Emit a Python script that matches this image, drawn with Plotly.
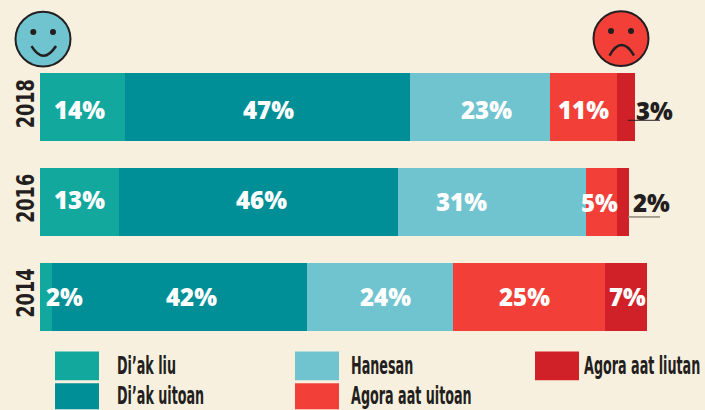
import plotly.graph_objects as go

years = ["2018", "2016", "2014"]
series_names = ["Di’ak liu", "Di’ak uitoan", "Hanesan", "Agora aat uitoan", "Agora aat liutan"]
diak_liu = [14, 13, 2]
diak_uitoan = [47, 46, 42]
hanesan = [23, 31, 24]
agora_uitoan = [11, 5, 25]
agora_liutan = [3, 2, 7]
series_values = [diak_liu, diak_uitoan, hanesan, agora_uitoan, agora_liutan]
colors = ["#12a89d", "#008f96", "#70c4cf", "#f23f38", "#d02128"]

# label nudges in pixels, per year then per series
label_dx = [[-3, 1, 6, 0, 29], [0, 3, -31, -2, 29], [18, 12, 6, -4, 2]]
label_dy = [[2, 2, 2, 2, 3], [-3, -3, -1, 0, 0], [0, 0, 0, 0, 0]]
label_colors = ["white", "white", "white", "white", "#231f20"]

W, H = 705, 410
ML, MR, MT, MB = 40, 0, 59.5, 65.5
PX_PER_PCT = 6.07
BG = "#f8f0df"
INK = "#231f20"
LABEL_FONT = "Open Sans"
NARROW = "DejaVu Sans Condensed"


def px(x):
    return (x - ML) / (W - ML - MR)


def py(y):
    return 1 - (y - MT) / (H - MT - MB)


fig = go.Figure()
for name, vals, col in zip(series_names, series_values, colors):
    fig.add_trace(go.Bar(y=years, x=vals, name=name, orientation="h",
                         marker=dict(color=col, line=dict(width=0)),
                         showlegend=False, hoverinfo="x+name"))

annotations = []
shapes = []
for yi, year in enumerate(years):
    cum = 0
    for si, vals in enumerate(series_values):
        v = vals[yi]
        lc = label_colors[si]
        if si == 4 and yi == 2:
            lc = "white"
        annotations.append(dict(x=cum + v / 2, y=len(years) - 1 - yi, xref="x", yref="y",
                                text=f"{v}%", showarrow=False,
                                xshift=label_dx[yi][si], yshift=-label_dy[yi][si],
                                font=dict(family=LABEL_FONT, size=24, color=lc, weight=800)))
        cum += v

# legend
legend_pos = [(55, 352, 381), (55, 384, 410), (295, 352, 381), (295, 384, 410), (535, 352, 381)]
legend_text_x = [115, 115, 349, 349, 582]
for name, col, (x0, y0, y1), tx in zip(series_names, colors, legend_pos, legend_text_x):
    shapes.append(dict(type="rect", xref="paper", yref="paper", x0=px(x0), x1=px(x0 + 44),
                       y0=py(y0), y1=py(y1), fillcolor=col, line=dict(width=0)))
    annotations.append(dict(x=px(tx), y=py((y0 + y1) / 2), xref="paper", yref="paper",
                            xanchor="left", yanchor="middle", text=f"<b>{name}</b>",
                            showarrow=False, font=dict(family=NARROW, size=24, color=INK)))


def circle(cx, cy, r, fill, lw=0):
    shapes.append(dict(type="circle", xref="paper", yref="paper",
                       x0=px(cx - r), x1=px(cx + r), y0=py(cy + r), y1=py(cy - r),
                       fillcolor=fill, line=dict(color=INK, width=lw)))


def curve(x0, y0, xc, yc, x1, y1):
    path = f"M {px(x0)} {py(y0)} Q {px(xc)} {py(yc)} {px(x1)} {py(y1)}"
    shapes.append(dict(type="path", xref="paper", yref="paper", path=path,
                       line=dict(color=INK, width=2.5)))


# faces
circle(43, 38.5, 27.5, colors[2], 2)
circle(33.3, 31.3, 3, INK)
circle(53, 31.3, 3, INK)
curve(31.5, 45.5, 43.5, 65, 56, 45.5)
circle(621, 38, 27.5, colors[3], 2)
circle(611, 30.5, 3, INK)
circle(631, 30.5, 3, INK)
curve(609.5, 55, 621.5, 34, 634, 55)

# underlines below outside labels
shapes.append(dict(type="line", xref="paper", yref="paper", x0=px(628), x1=px(660),
                   y0=py(120), y1=py(120), line=dict(color=INK, width=1)))
shapes.append(dict(type="line", xref="paper", yref="paper", x0=px(628), x1=px(660),
                   y0=py(217), y1=py(217), line=dict(color="#8c8577", width=1.5)))

fig.update_layout(
    width=W, height=H, barmode="stack", bargap=27 / 95,
    paper_bgcolor=BG, plot_bgcolor=BG,
    margin=dict(l=ML, r=MR, t=MT, b=MB, pad=0),
    showlegend=False, shapes=shapes, annotations=annotations,
    xaxis=dict(range=[0, (W - ML - MR) / PX_PER_PCT], visible=False),
    yaxis=dict(type="category", categoryorder="array", categoryarray=years[::-1],
               range=[-0.5, 2.5], tickangle=-90, ticks="", ticklen=0, showline=False,
               showgrid=False, zeroline=False,
               tickfont=dict(family=NARROW, size=24, color=INK, weight="bold")),
)

# page reset, and horizontal squeeze of texts towards the reference's condensed face
post = f"""
document.body.style.margin='0';
document.body.style.background='{BG}';
document.body.style.overflow='hidden';
document.querySelectorAll('.annotation-text').forEach(function(t){{
  if(t.textContent.indexOf('%')>=0) return;
  var b=t.getBBox(); var cur=t.getAttribute('transform')||'';
  t.setAttribute('transform','translate('+b.x+',0) scale(0.59,1) translate('+(-b.x)+',0) '+cur);
}});
document.querySelectorAll('.ytick text').forEach(function(t){{
  var x=t.getAttribute('x'), y=t.getAttribute('y'); var cur=t.getAttribute('transform')||'';
  t.setAttribute('transform',cur+' translate('+x+','+y+') scale(0.82,1) translate('+(-x)+','+(-y)+')');
}});
"""
fig.write_html("out.html", post_script=post, config={"displayModeBar": False})
